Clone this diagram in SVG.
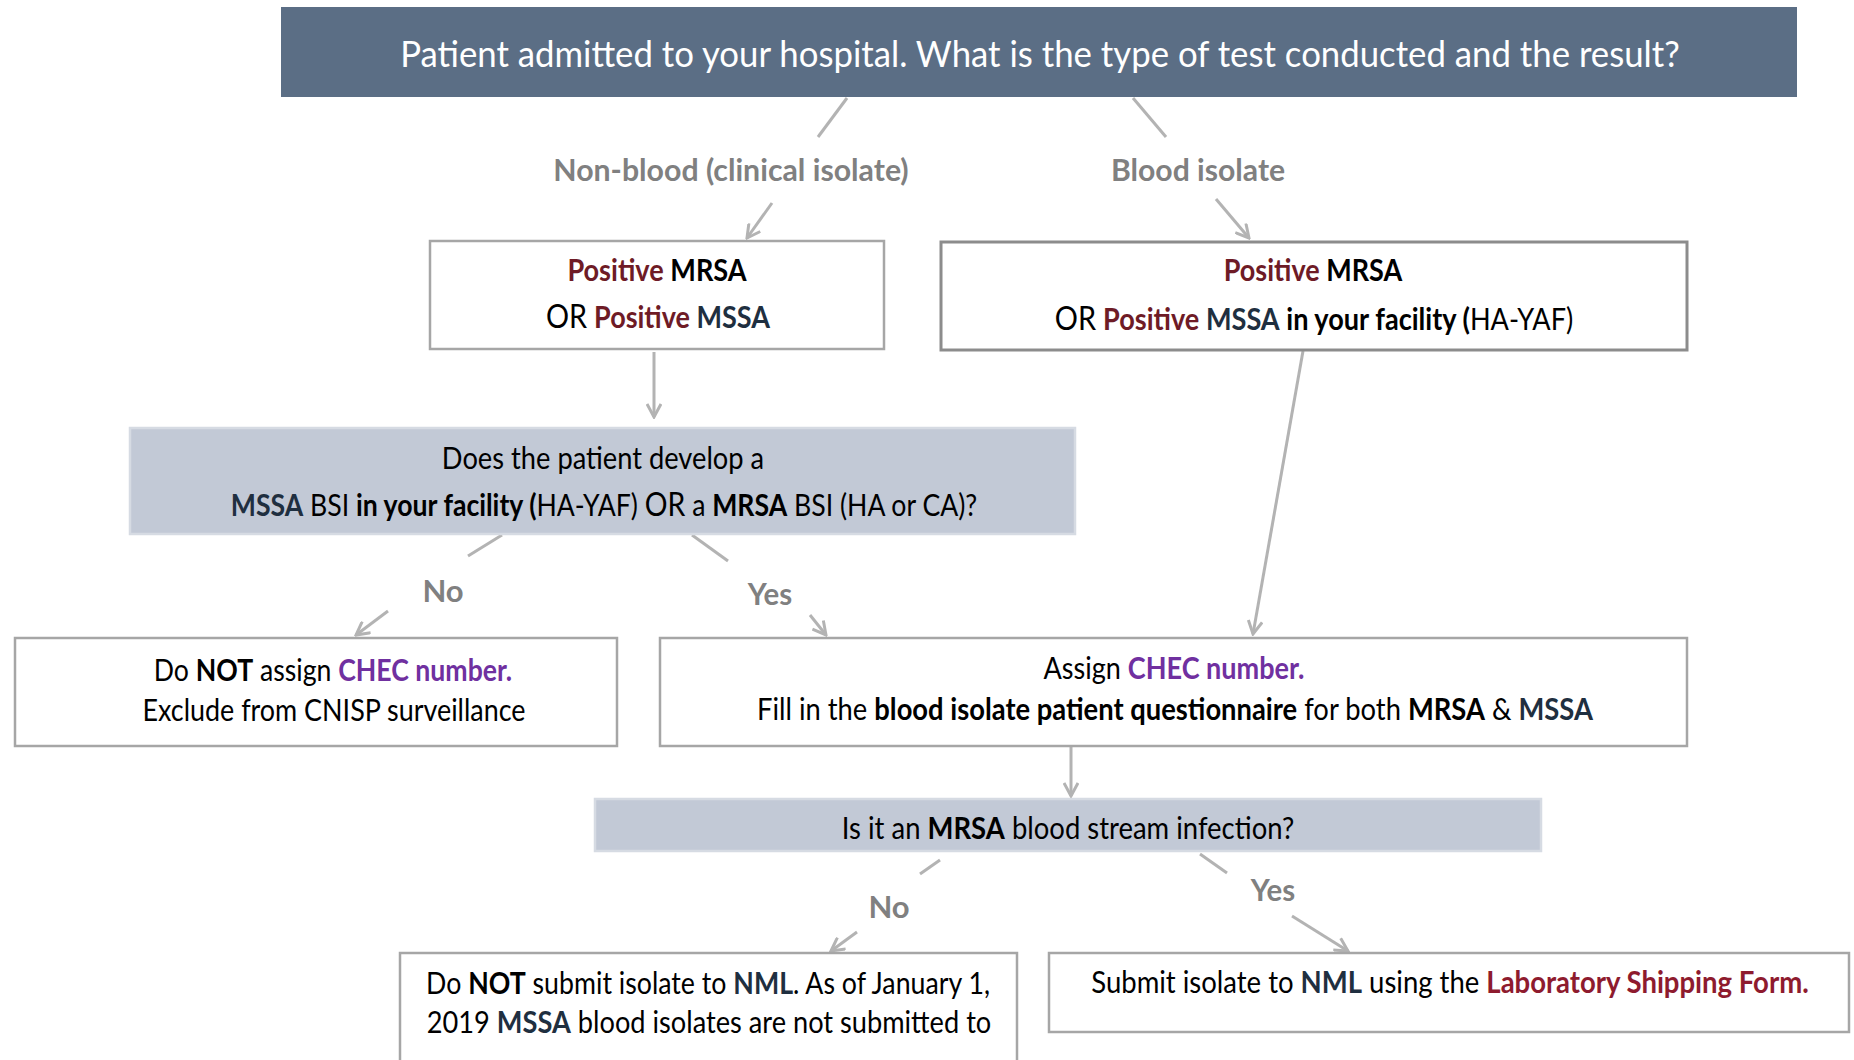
<svg xmlns="http://www.w3.org/2000/svg" width="1854" height="1060" viewBox="0 0 1854 1060">
<style>
text{font-family:Lato,"Open Sans","Liberation Sans",sans-serif;fill:#000;}
.t{font-size:30px;text-anchor:middle;}
.ban{font-size:36px;fill:#fff;text-anchor:middle;}
.lbl{font-size:31px;font-weight:bold;fill:#808080;text-anchor:middle;}
.b{font-weight:bold;}
.or{font-size:32px;}
.pos{font-weight:bold;fill:#6E1B26;}
.navy{font-weight:bold;fill:#1F2F40;}
.pur{font-weight:bold;fill:#7030A0;}
.red{font-weight:bold;fill:#8E1B2E;}
.box{fill:#fff;stroke:#A6A6A6;stroke-width:2.5;}
.dec{fill:#C2C9D6;stroke:#D6DBE3;stroke-width:2.5;}
.c{stroke:#B3B3B3;stroke-width:3;fill:none;}
.a{marker-end:url(#ah);}
</style>
<defs>
<marker id="ah" viewBox="0 0 16 16" refX="14" refY="8" markerWidth="16" markerHeight="16" markerUnits="userSpaceOnUse" orient="auto">
<path d="M1,1 L14,8 L1,15" fill="none" stroke="#B3B3B3" stroke-width="3"/>
</marker>
</defs>
<rect width="1854" height="1060" fill="#fff"/>

<g id="connectors">
<line class="c" x1="847" y1="98" x2="818" y2="137"/>
<line class="c" x1="1133" y1="98" x2="1166" y2="137"/>
<line class="c a" x1="772" y1="203" x2="747" y2="238"/>
<line class="c a" x1="1216" y1="199" x2="1249" y2="238"/>
<line class="c a" x1="654" y1="352" x2="654" y2="417"/>
<line class="c a" x1="1303" y1="351" x2="1253" y2="634"/>
<line class="c" x1="502" y1="535" x2="468" y2="556"/>
<line class="c a" x1="388" y1="611" x2="356" y2="635"/>
<line class="c" x1="692" y1="535" x2="728" y2="561"/>
<line class="c a" x1="810" y1="615" x2="826" y2="635"/>
<line class="c a" x1="1071" y1="747" x2="1071" y2="796"/>
<line class="c" x1="940" y1="860" x2="920" y2="874"/>
<line class="c a" x1="857" y1="932" x2="831" y2="951"/>
<line class="c" x1="1200" y1="854" x2="1227" y2="873"/>
<line class="c a" x1="1292" y1="916" x2="1348" y2="951"/>
<text class="lbl" transform="translate(731,181) scale(0.977,1)">Non-blood (clinical isolate)</text>
<text class="lbl" transform="translate(1198,181) scale(0.973,1)">Blood isolate</text>
<text class="lbl" transform="translate(443,602)">No</text>
<text class="lbl" transform="translate(770,605) scale(0.95,1)">Yes</text>
<text class="lbl" transform="translate(889,918)">No</text>
<text class="lbl" transform="translate(1273,901) scale(0.95,1)">Yes</text>
</g>

<g id="start">
<rect x="281" y="7" width="1516" height="90" fill="#5B6E85"/>
<text class="ban" transform="translate(1040,67) scale(0.966,1)">Patient admitted to your hospital. What is the type of test conducted and the result?</text>
</g>

<g id="nonblood-result">
<rect class="box" x="430" y="241" width="454" height="108"/>
<text class="t" transform="translate(657,281) scale(0.904,1)"><tspan class="pos">Positive</tspan><tspan class="b"> MRSA</tspan></text>
<text class="t" transform="translate(658,328) scale(0.9,1)"><tspan class="or">OR</tspan> <tspan class="pos">Positive</tspan><tspan class="navy"> MSSA</tspan></text>
</g>

<g id="blood-result">
<rect x="941" y="242" width="746" height="108" fill="#fff" stroke="#8C8C8C" stroke-width="3"/>
<text class="t" transform="translate(1313,281) scale(0.9,1)"><tspan class="pos">Positive</tspan><tspan class="b"> MRSA</tspan></text>
<text class="t" transform="translate(1314,330) scale(0.904,1)"><tspan class="or">OR</tspan> <tspan class="pos">Positive</tspan><tspan class="navy"> MSSA</tspan><tspan class="b"> in your facility (</tspan>HA-YAF)</text>
</g>

<g id="bsi-question">
<rect class="dec" x="130" y="428" width="945" height="106"/>
<text class="t" transform="translate(603,469) scale(0.909,1)">Does the patient develop a</text>
<text class="t" transform="translate(604,516) scale(0.888,1)"><tspan class="navy">MSSA</tspan> BSI <tspan class="b">in your facility (</tspan>HA-YAF) <tspan class="or">OR</tspan> a <tspan class="b">MRSA</tspan> BSI (HA or CA)?</text>
</g>

<g id="no-chec">
<rect class="box" x="15" y="638" width="602" height="108"/>
<text class="t" transform="translate(333,681) scale(0.888,1)">Do <tspan class="b">NOT</tspan> assign <tspan class="pur">CHEC number.</tspan></text>
<text class="t" transform="translate(334,721) scale(0.897,1)">Exclude from CNISP surveillance</text>
</g>

<g id="assign-chec">
<rect class="box" x="660" y="638" width="1027" height="108"/>
<text class="t" transform="translate(1174,679) scale(0.902,1)">Assign <tspan class="pur">CHEC number.</tspan></text>
<text class="t" transform="translate(1175,720) scale(0.912,1)">Fill in the <tspan class="b">blood isolate patient questionnaire</tspan> for both <tspan class="b">MRSA</tspan> &amp; <tspan class="navy">MSSA</tspan></text>
</g>

<g id="mrsa-question">
<rect class="dec" x="595" y="799" width="946" height="52"/>
<text class="t" transform="translate(1068,839) scale(0.916,1)">Is it an <tspan class="b">MRSA</tspan> blood stream infection?</text>
</g>

<g id="no-submit">
<rect class="box" x="400" y="953" width="617" height="120"/>
<text class="t" transform="translate(708,994) scale(0.891,1)">Do <tspan class="b">NOT</tspan> submit isolate to <tspan class="navy">NML</tspan>. As of January 1,</text>
<text class="t" transform="translate(709,1033) scale(0.907,1)">2019 <tspan class="navy">MSSA</tspan> blood isolates are not submitted to</text>
</g>

<g id="submit">
<rect class="box" x="1049" y="953" width="800" height="79"/>
<text class="t" transform="translate(1450,993) scale(0.917,1)">Submit isolate to <tspan class="navy">NML</tspan> using the <tspan class="red">Laboratory Shipping Form.</tspan></text>
</g>
</svg>
